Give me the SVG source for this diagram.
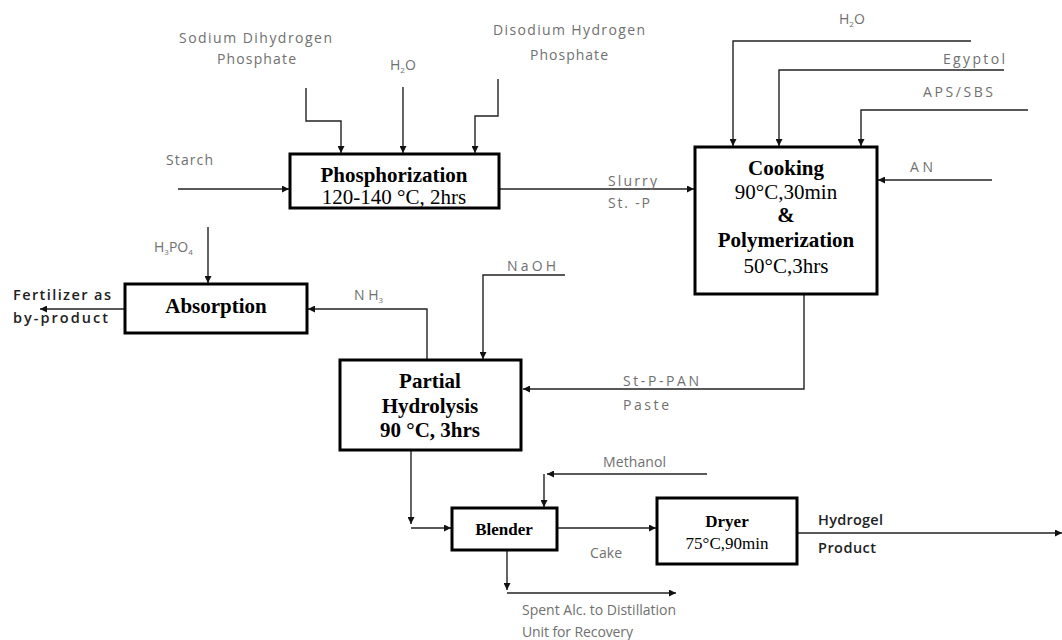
<svg xmlns="http://www.w3.org/2000/svg" width="1062" height="640" viewBox="0 0 1062 640">
<style>
.box{fill:#fff;stroke:#000;stroke-width:3}
.ln{fill:none;stroke:#222;stroke-width:1.4}
.lbl{font-family:"Open Sans","Liberation Sans",sans-serif;font-size:14px;fill:#707070}
.dk{font-family:"Open Sans","Liberation Sans",sans-serif;font-size:14.5px;fill:#222;font-weight:600}
.bt{font-family:"Liberation Serif",serif;font-size:21px;font-weight:bold;fill:#000}
.nt{font-family:"Liberation Serif",serif;font-size:21px;fill:#000}
.bs{font-family:"Liberation Serif",serif;font-size:17px;font-weight:bold;fill:#000}
.ns{font-family:"Liberation Serif",serif;font-size:17px;fill:#000}
</style>
<defs>
<marker id="ah" viewBox="0 0 10 10" refX="10" refY="5" markerWidth="7" markerHeight="7" orient="auto" markerUnits="userSpaceOnUse">
<path d="M0,0 L10,5 L0,10 z" fill="#111"/>
</marker>
</defs>
<g id="connectors">
<path class="ln" d="M178,189 H289" marker-end="url(#ah)"/>
<path class="ln" d="M306,88 V121 H341 V153" marker-end="url(#ah)"/>
<path class="ln" d="M403,87 V153" marker-end="url(#ah)"/>
<path class="ln" d="M498,79 V116 H475 V153" marker-end="url(#ah)"/>
<path class="ln" d="M499,189 H694" marker-end="url(#ah)"/>
<path class="ln" d="M971,41 H733 V146" marker-end="url(#ah)"/>
<path class="ln" d="M1004,70 H779 V146" marker-end="url(#ah)"/>
<path class="ln" d="M1028,110 H861 V146" marker-end="url(#ah)"/>
<path class="ln" d="M992,180 H878" marker-end="url(#ah)"/>
<path class="ln" d="M804,294 V389 H523" marker-end="url(#ah)"/>
<path class="ln" d="M565,275 H483 V359" marker-end="url(#ah)"/>
<path class="ln" d="M427,360 V309 H308" marker-end="url(#ah)"/>
<path class="ln" d="M208,227 V283" marker-end="url(#ah)"/>
<path class="ln" d="M125,309 H40" marker-end="url(#ah)"/>
<path class="ln" d="M411,450 V524" marker-end="url(#ah)"/>
<path class="ln" d="M411,528 H451" marker-end="url(#ah)"/>
<path class="ln" d="M707,474 H547" marker-end="url(#ah)"/>
<path class="ln" d="M544,474 V507" marker-end="url(#ah)"/>
<path class="ln" d="M557,528 H656" marker-end="url(#ah)"/>
<path class="ln" d="M797,533 H1062" marker-end="url(#ah)"/>
<path class="ln" d="M507,550 V590" marker-end="url(#ah)"/>
<path class="ln" d="M507,593 H676" marker-end="url(#ah)"/>
</g>
<g id="labels">
<text class="lbl" x="179" y="43" textLength="153" lengthAdjust="spacing">Sodium Dihydrogen</text>
<text class="lbl" x="217" y="64" textLength="79" lengthAdjust="spacing">Phosphate</text>
<text class="lbl" x="390" y="70">H<tspan font-size="8" dy="3">2</tspan><tspan dy="-3">O</tspan></text>
<text class="lbl" x="493" y="35" textLength="152" lengthAdjust="spacing">Disodium Hydrogen</text>
<text class="lbl" x="530" y="60" textLength="78" lengthAdjust="spacing">Phosphate</text>
<text class="lbl" x="166" y="165" textLength="47" lengthAdjust="spacing">Starch</text>
<text class="lbl" x="608" y="186" textLength="49" lengthAdjust="spacing">Slurry</text>
<text class="lbl" x="608" y="208" textLength="42" lengthAdjust="spacing">St. -P</text>
<text class="lbl" x="839" y="24">H<tspan font-size="8" dy="3">2</tspan><tspan dy="-3">O</tspan></text>
<text class="lbl" x="943" y="64" textLength="62" lengthAdjust="spacing">Egyptol</text>
<text class="lbl" x="923" y="97" textLength="70" lengthAdjust="spacing">APS/SBS</text>
<text class="lbl" x="910" y="172" textLength="23" lengthAdjust="spacing">AN</text>
<text class="lbl" x="154" y="252">H<tspan font-size="8" dy="3">3</tspan><tspan dy="-3">PO</tspan><tspan font-size="8" dy="3">4</tspan></text>
<text class="dk" x="13" y="300" textLength="98" lengthAdjust="spacing">Fertilizer as</text>
<text class="dk" x="13" y="323" textLength="95" lengthAdjust="spacing">by-product</text>
<text class="lbl" x="354" y="300">N H<tspan font-size="8" dy="3">3</tspan></text>
<text class="lbl" x="507" y="271" textLength="49" lengthAdjust="spacing">NaOH</text>
<text class="lbl" x="623" y="386" textLength="76" lengthAdjust="spacing">St-P-PAN</text>
<text class="lbl" x="623" y="410" textLength="46" lengthAdjust="spacing">Paste</text>
<text class="lbl" x="603" y="467" textLength="63" lengthAdjust="spacing">Methanol</text>
<text class="lbl" x="590" y="558" textLength="32" lengthAdjust="spacing">Cake</text>
<text class="dk" x="818" y="525" textLength="65" lengthAdjust="spacing">Hydrogel</text>
<text class="dk" x="818" y="553" textLength="58" lengthAdjust="spacing">Product</text>
<text class="lbl" x="522" y="615" textLength="154" lengthAdjust="spacing">Spent Alc. to Distillation</text>
<text class="lbl" x="522" y="637" textLength="111" lengthAdjust="spacing">Unit for Recovery</text>
</g>
<g id="phosphorization">
<rect class="box" x="290" y="154" width="209" height="54"/>
<text class="bt" x="394" y="182" text-anchor="middle">Phosphorization</text>
<text class="nt" x="394" y="204" text-anchor="middle">120-140 °C, 2hrs</text>
</g>
<g id="cooking">
<rect class="box" x="695" y="147" width="182" height="147"/>
<text class="bt" x="786" y="175" text-anchor="middle">Cooking</text>
<text class="nt" x="786" y="199" text-anchor="middle">90°C,30min</text>
<text class="bt" x="786" y="222" text-anchor="middle">&amp;</text>
<text class="bt" x="786" y="247" text-anchor="middle">Polymerization</text>
<text class="nt" x="786" y="273" text-anchor="middle">50°C,3hrs</text>
</g>
<g id="absorption">
<rect class="box" x="125" y="284" width="182" height="49"/>
<text class="bt" x="216" y="313" text-anchor="middle">Absorption</text>
</g>
<g id="hydrolysis">
<rect class="box" x="340" y="360" width="181" height="90"/>
<text class="bt" x="430" y="388" text-anchor="middle">Partial</text>
<text class="bt" x="430" y="413" text-anchor="middle">Hydrolysis</text>
<text class="bt" x="430" y="437" text-anchor="middle">90 °C, 3hrs</text>
</g>
<g id="blender">
<rect class="box" x="452" y="508" width="105" height="42"/>
<text class="bs" x="504" y="535" text-anchor="middle">Blender</text>
</g>
<g id="dryer">
<rect class="box" x="657" y="498" width="140" height="66"/>
<text class="bs" x="727" y="527" text-anchor="middle">Dryer</text>
<text class="ns" x="727" y="549" text-anchor="middle">75°C,90min</text>
</g>
</svg>
